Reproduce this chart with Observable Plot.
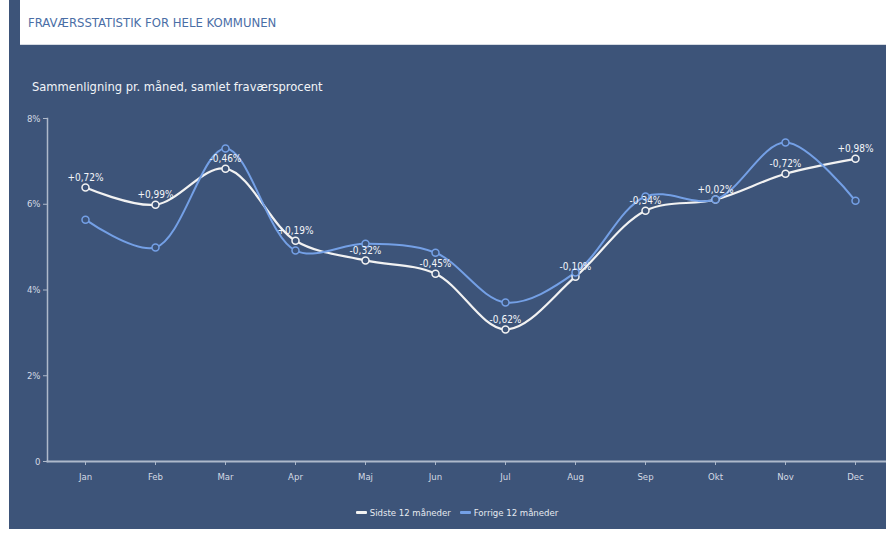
<!DOCTYPE html>
<html>
<head>
<meta charset="utf-8">
<script src="https://cdn.jsdelivr.net/npm/d3@7"></script>
<script src="https://cdn.jsdelivr.net/npm/@observablehq/plot@0.6"></script>
<style>
  html, body { margin: 0; padding: 0; background: #ffffff; }
  body { width: 886px; height: 537px; position: relative; overflow: hidden;
         font-family: "Liberation Sans Narrow", "Arial Narrow", "DejaVu Sans Condensed", sans-serif; }
  #bar { position: absolute; left: 9px; top: 0; width: 11px; height: 45px; background: #3d5479; }
  #headline { position: absolute; left: 20px; top: 0; width: 866px; height: 44px; border-bottom: 1px solid #d6dbe3; }
  #title { position: absolute; left: 28px; top: 15px; font-size: 13px; color: #4a6ea6; }
  #panel { position: absolute; left: 9px; top: 45px; width: 877px; height: 484px; background: #3d5479; }
  #subtitle { position: absolute; left: 32px; top: 79px; font-size: 12.8px; color: #f2f4f8; }
  #chart { position: absolute; left: 0; top: 100px; }
  #legend { position: absolute; top: 507px; left: 0; width: 886px; display: flex; justify-content: center;
            padding-left: 28px; box-sizing: border-box; gap: 9px; font-size: 9.5px; color: #e6eaf0; }
  .item { display: flex; align-items: center; gap: 3px; }
  .swatch { width: 11px; height: 3px; border-radius: 1px; }
</style>
</head>
<body>
<div id="bar"></div>
<div id="headline"></div>
<div id="title">FRAVÆRSSTATISTIK FOR HELE KOMMUNEN</div>
<div id="panel"></div>
<div id="subtitle">Sammenligning pr. måned, samlet fraværsprocent</div>
<div id="chart"></div>
<div id="legend"></div>
<script>
const months = ["Jan","Feb","Mar","Apr","Maj","Jun","Jul","Aug","Sep","Okt","Nov","Dec"];
const sidste = [6.39, 5.99, 6.83, 5.15, 4.69, 4.38, 3.08, 4.31, 5.85, 6.11, 6.71, 7.06];
const forrige = [5.64, 4.99, 7.30, 4.92, 5.08, 4.87, 3.71, 4.41, 6.18, 6.11, 7.44, 6.08];
const diffLabels = ["+0,72%","+0,99%","-0,46%","+0,19%","-0,32%","-0,45%","-0,62%","-0,10%","-0,34%","+0,02%","-0,72%","+0,98%"];
const yTicks = [0, 2, 4, 6, 8];
const seriesNames = ["Sidste 12 måneder", "Forrige 12 måneder"];
const seriesColors = ["#f2f2f2", "#74a0e6"];
const panelColor = "#3d5479";

const rowsS = months.map((m, i) => ({month: m, value: sidste[i], label: diffLabels[i]}));
const rowsF = months.map((m, i) => ({month: m, value: forrige[i]}));

const font = '"Liberation Sans Narrow", "Arial Narrow", "DejaVu Sans Condensed", sans-serif';

const plot = Plot.plot({
  width: 886,
  height: 400,
  marginTop: 18,
  marginBottom: 39,
  marginLeft: 47,
  marginRight: 0,
  style: {background: "transparent", fontFamily: font, fontSize: "9.5px", color: "#d4dae4", overflow: "visible"},
  x: {type: "point", domain: months, range: [83, 856], padding: 0},
  y: {domain: [0, 8]},
  marks: [
    Plot.frame({anchor: "left", stroke: "#aeb9cb", strokeOpacity: 1, strokeWidth: 1.5}),
    Plot.frame({anchor: "bottom", stroke: "#aeb9cb", strokeOpacity: 1, strokeWidth: 2}),
    Plot.axisY({ticks: yTicks, tickSize: 4, tickPadding: 3, stroke: "#aeb9cb", fill: "#d4dae4",
      tickFormat: d => d === 0 ? "0" : d + "%", label: null}),
    Plot.axisX({tickSize: 4, tickPadding: 8, stroke: "#aeb9cb", fill: "#d4dae4", label: null}),
    Plot.line(rowsS, {x: "month", y: "value", curve: "catmull-rom", stroke: seriesColors[0], strokeWidth: 2.2}),
    Plot.line(rowsF, {x: "month", y: "value", curve: "catmull-rom", stroke: seriesColors[1], strokeWidth: 2}),
    Plot.dot(rowsS, {x: "month", y: "value", r: 3.5, fill: panelColor, stroke: seriesColors[0], strokeWidth: 1.5}),
    Plot.dot(rowsF, {x: "month", y: "value", r: 3.5, fill: panelColor, stroke: seriesColors[1], strokeWidth: 1.5}),
    Plot.text(rowsS, {x: "month", y: "value", text: "label", dy: -10, fill: "#f4f6fa", fontSize: 10})
  ]
});
document.getElementById("chart").appendChild(plot);

const legend = document.getElementById("legend");
seriesNames.forEach((name, i) => {
  const item = document.createElement("div");
  item.className = "item";
  const sw = document.createElement("span");
  sw.className = "swatch";
  sw.style.background = seriesColors[i];
  const tx = document.createElement("span");
  tx.textContent = name;
  item.appendChild(sw);
  item.appendChild(tx);
  legend.appendChild(item);
});
</script>
</body>
</html>
